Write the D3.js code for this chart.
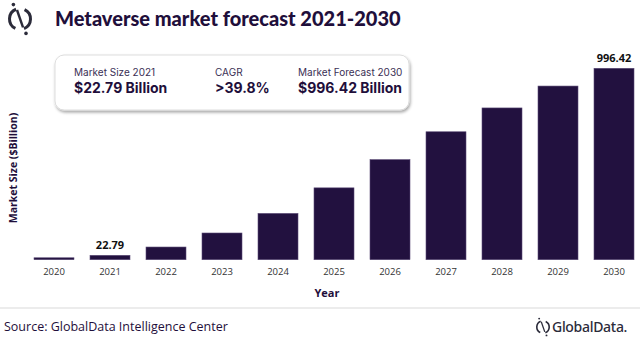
<!DOCTYPE html>
<html>
<head>
<meta charset="utf-8">
<script src="https://cdn.jsdelivr.net/npm/d3@7"></script>
<style>
  body { margin: 0; background: #fff; }
  svg { display: block; }
</style>
</head>
<body>
<div id="chart"></div>
<script>
// data
var years = ["2020", "2021", "2022", "2023", "2024", "2025", "2026", "2027", "2028", "2029", "2030"];
var marketSize = [10, 22.79, 66, 139, 241, 374, 521, 666, 790, 904, 996.42];
var labelled = ["2021", "2030"];

var boxLabels = ["Market Size 2021", "CAGR", "Market Forecast 2030"];
var boxValues = ["$22.79 Billion", ">39.8%", "$996.42 Billion"];

var dark = "#1f0f3b";
var width = 640, height = 340;

var svg = d3.select("#chart").append("svg")
    .attr("width", width)
    .attr("height", height);

var defs = svg.append("defs");
var f = defs.append("filter").attr("id", "shadow")
    .attr("x", "-10%").attr("y", "-20%").attr("width", "120%").attr("height", "150%");
f.append("feDropShadow").attr("dx", 1).attr("dy", 2).attr("stdDeviation", 1.5)
    .attr("flood-color", "#000").attr("flood-opacity", 0.35);

// little globe logo, used in header and footer
function drawLogo(g, r, w) {
    g.append("path")
        .attr("d", d3.arc()({innerRadius: r - w, outerRadius: r, startAngle: 0.45, endAngle: 2.75}))
        .attr("fill", "#2b2b3a");
    g.append("path")
        .attr("d", d3.arc()({innerRadius: r - w, outerRadius: r, startAngle: 3.6, endAngle: 5.9}))
        .attr("fill", "#2b2b3a");
    g.append("line")
        .attr("x1", -r * 0.25).attr("y1", -r * 0.75)
        .attr("x2", r * 0.25).attr("y2", r * 0.7)
        .attr("stroke", "#2b2b3a").attr("stroke-width", w * 0.8);
    g.append("circle").attr("cx", -r * 0.55).attr("cy", -r * 1.2).attr("r", w * 0.6).attr("fill", "#2b2b3a");
    g.append("circle").attr("cx", r * 0.5).attr("cy", r * 1.2).attr("r", w * 0.6).attr("fill", "#2b2b3a");
}

drawLogo(svg.append("g").attr("transform", "translate(20,19)"), 12, 3);

svg.append("text")
    .attr("x", 55).attr("y", 26)
    .attr("font-family", "Lato, 'Open Sans', sans-serif")
    .attr("font-weight", 900)
    .attr("font-size", 20)
    .attr("fill", dark)
    .text("Metaverse market forecast 2021-2030");

// scales
var x = d3.scaleBand()
    .domain(years)
    .range([26, 642])
    .paddingInner(0.286)
    .paddingOuter(0.143);

var y = d3.scaleLinear()
    .domain([0, 996.42])
    .range([259.7, 68.3]);

// bars
svg.selectAll("rect.bar")
    .data(years)
    .enter()
    .append("rect")
    .attr("class", "bar")
    .attr("x", d => x(d))
    .attr("y", (d, i) => y(marketSize[i]))
    .attr("width", x.bandwidth())
    .attr("height", (d, i) => y(0) - y(marketSize[i]))
    .attr("fill", "#22113f")
    .attr("stroke", "#5a4a75")
    .attr("stroke-width", 0.6);

// value labels
svg.selectAll("text.val")
    .data(years.filter(d => labelled.indexOf(d) >= 0))
    .enter()
    .append("text")
    .attr("class", "val")
    .attr("x", d => x(d) + x.bandwidth() / 2)
    .attr("y", d => y(marketSize[years.indexOf(d)]) - 6)
    .attr("text-anchor", "middle")
    .attr("font-family", "'Open Sans', sans-serif")
    .attr("font-weight", 700)
    .attr("font-size", 11)
    .attr("fill", "#111")
    .text(d => marketSize[years.indexOf(d)].toFixed(2));

// x axis
var xAxis = svg.append("g")
    .attr("transform", "translate(0," + y(0) + ")")
    .call(d3.axisBottom(x).tickSize(0).tickPadding(9));
xAxis.select(".domain").remove();
xAxis.selectAll("text")
    .attr("font-family", "'Open Sans', sans-serif")
    .attr("font-size", 9.5)
    .attr("fill", "#333");

svg.append("text")
    .attr("x", 327).attr("y", 297)
    .attr("text-anchor", "middle")
    .attr("font-family", "'Open Sans', sans-serif")
    .attr("font-weight", 700)
    .attr("font-size", 11)
    .attr("fill", dark)
    .text("Year");

svg.append("text")
    .attr("transform", "translate(17,168) rotate(-90)")
    .attr("text-anchor", "middle")
    .attr("font-family", "'Open Sans', sans-serif")
    .attr("font-weight", 700)
    .attr("font-size", 10.5)
    .attr("fill", dark)
    .text("Market Size ($Billion)");

// summary box
svg.append("rect")
    .attr("x", 55).attr("y", 55)
    .attr("width", 354).attr("height", 55)
    .attr("rx", 9)
    .attr("fill", "#fff")
    .attr("stroke", "#ddd")
    .attr("filter", "url(#shadow)");

var boxX = [74, 215, 298];
boxLabels.forEach(function(l, i) {
    svg.append("text")
        .attr("x", boxX[i]).attr("y", 76)
        .attr("font-family", "Inter, sans-serif")
        .attr("font-size", 10)
        .attr("fill", "#3a2f55")
        .text(l);
    svg.append("text")
        .attr("x", boxX[i]).attr("y", 93)
        .attr("font-family", "Inter, sans-serif")
        .attr("font-weight", 700)
        .attr("font-size", 14)
        .attr("fill", dark)
        .text(boxValues[i]);
});

// footer
svg.append("line")
    .attr("x1", 0).attr("x2", width)
    .attr("y1", 308).attr("y2", 308)
    .attr("stroke", "#e6e6e6").attr("stroke-width", 1.5);

svg.append("text")
    .attr("x", 4).attr("y", 331)
    .attr("font-family", "'Open Sans', sans-serif")
    .attr("font-size", 12.5)
    .attr("fill", dark)
    .text("Source: GlobalData Intelligence Center");

drawLogo(svg.append("g").attr("transform", "translate(543,327)"), 7, 1.6);
svg.append("text")
    .attr("x", 552).attr("y", 332)
    .attr("font-family", "'Noto Sans', sans-serif")
    .attr("font-weight", 500)
    .attr("font-size", 14)
    .attr("letter-spacing", -0.3)
    .attr("fill", "#2b2b3a")
    .text("GlobalData.");
</script>
</body>
</html>
